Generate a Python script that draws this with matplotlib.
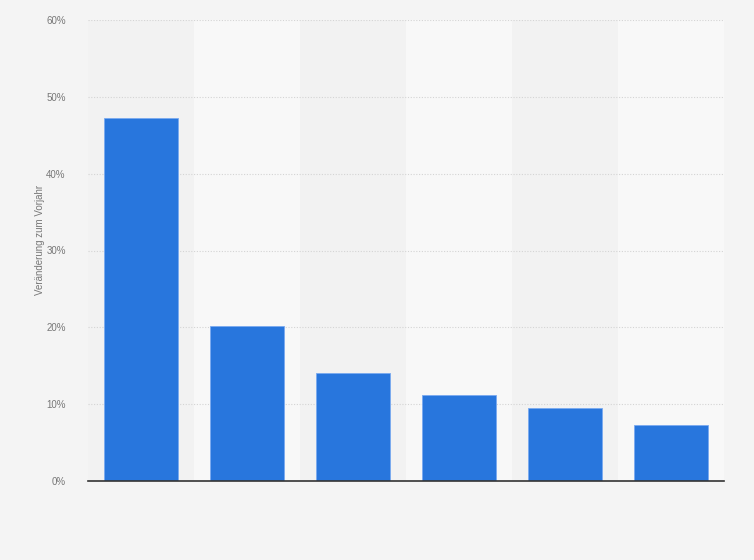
import matplotlib
matplotlib.use("Agg")
import matplotlib.pyplot as plt
import numpy as np

plt.rcParams["font.family"] = ["Liberation Sans", "DejaVu Sans"]

categories = ["1", "2", "3", "4", "5", "6"]
values = [47.2, 20.2, 14.0, 11.2, 9.5, 7.3]
yticks = [0, 10, 20, 30, 40, 50, 60]
ytick_labels = ["0%", "10%", "20%", "30%", "40%", "50%", "60%"]

fig = plt.figure(figsize=(7.54, 5.60), dpi=100)
fig.patch.set_facecolor("#f4f4f4")
ax = fig.add_axes([88/754, 1 - 481/560, (724-88)/754, (481-20)/560])
ax.set_facecolor("#f4f4f4")

x = np.arange(len(categories))
for i in x:
    ax.axvspan(i - 0.5, i + 0.5, color="#f2f2f2" if i % 2 == 0 else "#f8f8f8", zorder=0, lw=0)

ax.bar(x, values, width=0.69, color="#2876dd", edgecolor="#7aaaf0", linewidth=0.6, zorder=3)

ax.set_xlim(-0.5, len(categories) - 0.5)
ax.set_ylim(0, 60)
ax.set_yticks(yticks)
ax.set_yticklabels(ytick_labels, fontsize=7, color="#777777")
ax.set_xticks([])
ax.yaxis.grid(True, linestyle=(0, (1, 1.5)), color="#d4d4d4", linewidth=0.8, zorder=1)
ax.tick_params(axis="y", length=0, pad=16)
for s in ["top", "right", "left"]:
    ax.spines[s].set_visible(False)
ax.spines["bottom"].set_color("#333333")
ax.spines["bottom"].set_linewidth(1.2)
ax.spines["bottom"].set_zorder(4)

fig.text(40/754, 1 - 240/560, "Veränderung zum Vorjahr", rotation=90, fontsize=7,
         color="#777777", ha="center", va="center")

fig.savefig("out.png", dpi=100, facecolor=fig.get_facecolor())
